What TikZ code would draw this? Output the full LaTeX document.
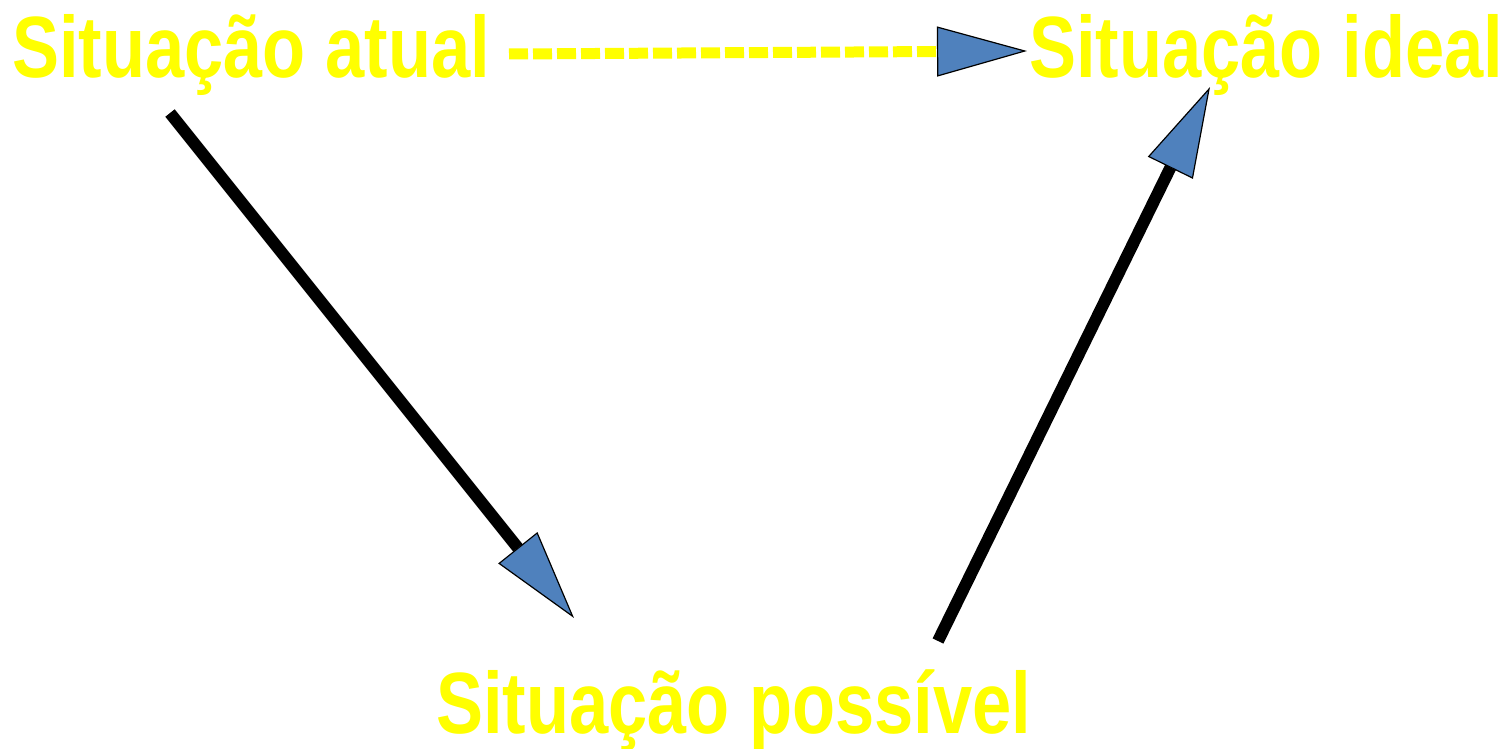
\documentclass[tikz,border=0pt]{standalone}
\usepackage{fontspec}
\newfontfamily\labelfont[FakeStretch=0.81]{Liberation Sans}
\usetikzlibrary{arrows.meta}
\definecolor{headblue}{HTML}{4F81BD}
\definecolor{labelyellow}{HTML}{FFFF00}

\begin{document}
\begin{tikzpicture}[x=1pt, y=-1pt,
        situation/.style={anchor=base west, inner sep=0pt, text=labelyellow,
            font=\labelfont\bfseries\fontsize{87}{87}\selectfont},
        shaft/.style={draw=black, line width=12pt},
        yellowdash/.style={draw=labelyellow, line width=11pt, dash pattern=on 19pt off 5pt},
        >={Triangle[length=90pt, width=50pt, line width=1.2pt, color=black, fill=headblue]}]
        \useasboundingbox (0, 0) rectangle (1505, 749);
        % Labels
        \node [situation] (atual) at (12, 78) {Situação atual};
        \node [situation] (ideal) at (1029, 78) {Situação ideal};
        \node [situation] (possivel) at (436, 733) {Situação possível};
        % Arrow ends
        \coordinate (atual-east) at (509, 54);
        \coordinate (ideal-west) at (1027, 51);
        \coordinate (atual-south) at (170, 113);
        \coordinate (possivel-north) at (574, 618);
        \coordinate (possivel-east) at (938, 641);
        \coordinate (ideal-south) at (1210, 87);
        % Arrows
        \draw [yellowdash, ->] (atual-east) -- (ideal-west);
        \draw [shaft, ->] (atual-south) -- (possivel-north);
        \draw [shaft, ->] (possivel-east) -- (ideal-south);
    \end{tikzpicture}
\end{document}
